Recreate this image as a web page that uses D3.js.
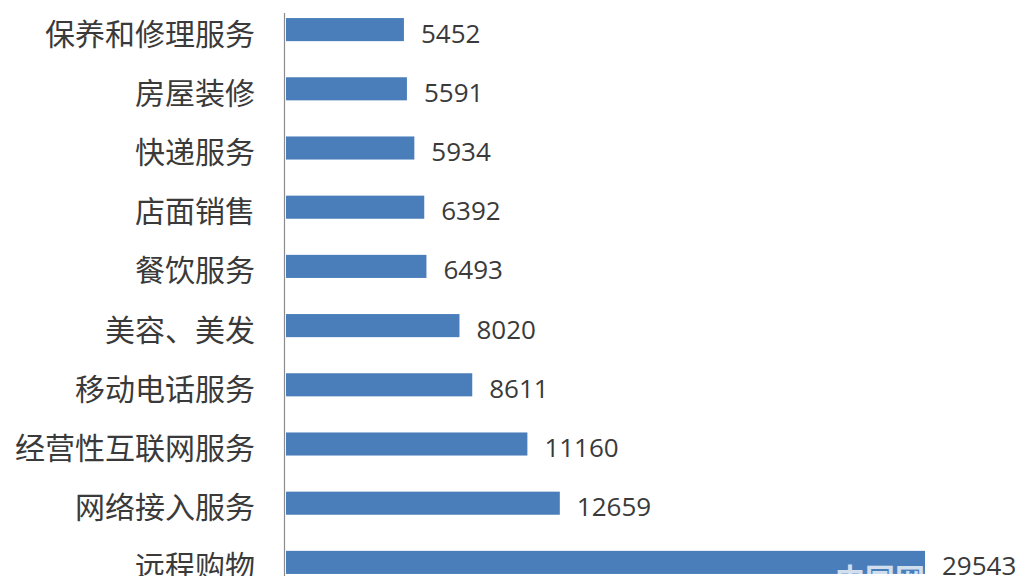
<!DOCTYPE html>
<html lang="zh">
<head>
<meta charset="UTF-8">
<title>投诉分类</title>
<script src="https://d3js.org/d3.v7.min.js"></script>
<style>
  body { margin: 0; background: #fff; overflow: hidden; }
  svg { display: block; }
</style>
</head>
<body>
<div id="chart"></div>
<script>
// categories top to bottom, and their counts
const categories = ["保养和修理服务", "房屋装修", "快递服务", "店面销售", "餐饮服务",
                    "美容、美发", "移动电话服务", "经营性互联网服务", "网络接入服务", "远程购物"];
const values = [5452, 5591, 5934, 6392, 6493, 8020, 8611, 11160, 12659, 29543];

const width = 1025, height = 576;

const svg = d3.select("#chart").append("svg")
    .attr("width", width)
    .attr("height", height);

const x = d3.scaleLinear()
    .domain([0, d3.max(values)])
    .range([286, 925]);

const y = d3.scaleBand()
    .domain(categories)
    .range([0, 592])
    .paddingInner(0.61)
    .paddingOuter(0.305);

const rows = categories.map((c, i) => ({ cat: c, val: values[i] }));

// bars
svg.selectAll("rect.bar")
  .data(rows)
  .join("rect")
    .attr("class", "bar")
    .attr("x", x(0))
    .attr("y", d => y(d.cat))
    .attr("width", d => x(d.val) - x(0))
    .attr("height", y.bandwidth())
    .attr("fill", "#4a7ebb");

// vertical axis line
svg.append("line")
    .attr("x1", 284.5).attr("x2", 284.5)
    .attr("y1", 13).attr("y2", height)
    .attr("stroke", "#8c8c8c")
    .attr("stroke-width", 1.2);

// category labels
svg.selectAll("text.cat")
  .data(rows)
  .join("text")
    .attr("class", "cat")
    .attr("x", 255)
    .attr("y", d => y(d.cat) + y.bandwidth() / 2 + 2)
    .attr("text-anchor", "end")
    .attr("dominant-baseline", "central")
    .attr("font-family", "'Noto Sans CJK SC', sans-serif")
    .attr("font-size", 30)
    .attr("fill", "#3a3a3a")
    .text(d => d.cat);

// value labels
svg.selectAll("text.val")
  .data(rows)
  .join("text")
    .attr("class", "val")
    .attr("x", d => x(d.val) + 17)
    .attr("y", d => y(d.cat) + y.bandwidth() / 2 + 3)
    .attr("dominant-baseline", "central")
    .attr("font-family", "'Open Sans', sans-serif")
    .attr("font-size", 26)
    .attr("fill", "#3a3a3a")
    .text(d => d.val);

// faint watermark over the last bar
svg.append("text")
    .attr("x", 835)
    .attr("y", 590)
    .attr("font-family", "'Noto Sans CJK SC', sans-serif")
    .attr("font-size", 30)
    .attr("font-weight", "bold")
    .attr("fill", "#ffffff")
    .attr("opacity", 0.75)
    .text("中国网");
</script>
</body>
</html>
